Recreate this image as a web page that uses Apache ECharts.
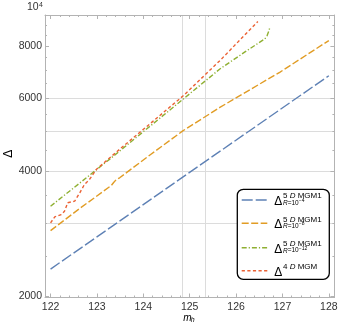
<!DOCTYPE html>
<html>
<head>
<meta charset="utf-8">
<script src="https://cdn.jsdelivr.net/npm/echarts@6.0.0/dist/echarts.min.js"></script>
<style>
  html, body { margin: 0; padding: 0; background: #fff; }
  #chart { width: 338px; height: 332px; }
</style>
</head>
<body>
<div id="chart"></div>
<script>
// m_h values and Delta values
const blueX = [122, 124.78, 128];
const blueY = [2329, 3825, 6789];

const orangeX = [122, 122.65, 123.31, 123.36, 123.42, 123.49, 124.15, 124.85, 125.65, 126.3, 126.94, 128];
const orangeY = [2881, 3270, 3699, 3760, 3825, 3860, 4385, 5002, 5696, 6285, 6918, 8248];

const greenX = [122, 123.27, 124.86, 125.65, 126.2, 126.62, 126.67, 126.71, 126.73];
const greenY = [3297, 4274, 5965, 7046, 7755, 8324, 8478, 8716, 8882];

const redX = [122, 122.09, 122.23, 122.3, 122.37, 122.52, 122.63, 122.73, 122.84, 122.99, 123.5, 124.2, 124.86, 125.65, 126.1, 126.47];
const redY = [3007, 3109, 3148, 3206, 3362, 3391, 3551, 3720, 3825, 4045, 4530, 5267, 6075, 7380, 8310, 9163];

// ticks and grid lines
const xMajor = [122, 123, 124, 125, 126, 127, 128];
const yMajor = [2000, 4000, 6000, 8000, 10000];
const yMinor = [2500, 3000, 3500, 4500, 5000, 5500, 6500, 7000, 7500, 8500, 9000, 9500];
const xGrid = [124.85, 125.33];
const yGrid = [3000, 4000, 5000, 6000];

const legendNames = [
  { sup: '5 D MGM1', sub: 'R=10', exp: '\u22124' },
  { sup: '5 D MGM1', sub: 'R=10', exp: '\u22128' },
  { sup: '5 D MGM1', sub: 'R=10', exp: '\u221212' },
  { sup: '4 D MGM', sub: '', exp: '' }
];

const X_MIN = 121.88, X_MAX = 128.12;
const Y_MIN = 1990, Y_MAX = 9500;

const FONT = '"Liberation Sans", Arial, sans-serif';
const FRAME = '#b3b3b3';
const GRID = '#dcdcdc';
const LABEL = '#333';
const colors = ['#5e81b5', '#e19c24', '#8fb032', '#eb6235'];
const dashes = [[11, 3], [7, 2.5], [5, 2, 1.2, 2], [3.2, 2.4]];

const xMinor = [];
for (let i = 0; i < 6; i++) {
  for (let k = 1; k < 5; k++) xMinor.push(+(122 + i + k * 0.2).toFixed(1));
}

function pairs(xs, ys) {
  return xs.map((x, i) => [x, ys[i]]);
}

function xAx(position, ticks, len, line, label) {
  return {
    type: 'value', min: X_MIN, max: X_MAX, position: position,
    axisLine: { show: line, onZero: false, lineStyle: { color: FRAME, width: 1 } },
    axisTick: { show: true, inside: true, length: len, customValues: ticks, lineStyle: { color: FRAME, width: 1 } },
    axisLabel: label ? { show: true, customValues: ticks, margin: 4, fontSize: 10.5, fontFamily: FONT, color: LABEL } : { show: false },
    splitLine: { show: false }
  };
}

function yAx(position, ticks, len, line, label) {
  return {
    type: 'log', logBase: 10, min: Y_MIN, max: Y_MAX, position: position,
    axisLine: { show: line, onZero: false, lineStyle: { color: FRAME, width: 1 } },
    axisTick: { show: true, inside: true, length: len, customValues: ticks, lineStyle: { color: FRAME, width: 1 } },
    axisLabel: label ? { show: true, customValues: ticks, margin: 3, fontSize: 10.5, fontFamily: FONT, color: LABEL, formatter: v => String(Math.round(v)) } : { show: false },
    splitLine: { show: false }
  };
}

const gridX = xAx('bottom', xGrid, 0, false, false);
gridX.axisTick.show = false;
gridX.splitLine = { show: true, lineStyle: { color: GRID, width: 1 } };
const gridY = yAx('left', yGrid, 0, false, false);
gridY.axisTick.show = false;
gridY.splitLine = { show: true, lineStyle: { color: GRID, width: 1 } };

const seriesData = [pairs(blueX, blueY), pairs(orangeX, orangeY), pairs(greenX, greenY), pairs(redX, redY)];

const chart = echarts.init(document.getElementById('chart'), null, { renderer: 'canvas' });

const option = {
  animation: false,
  backgroundColor: '#fff',
  grid: { left: 45, right: 3.6, top: 15, bottom: 34.5, outerBoundsMode: 'none' },
  xAxis: [
    xAx('bottom', xMajor, 4, true, true),
    xAx('bottom', xMinor, 2, false, false),
    xAx('top', xMajor, 4, true, false),
    xAx('top', xMinor, 2, false, false),
    gridX
  ],
  yAxis: [
    yAx('left', yMajor, 4, true, true),
    yAx('left', yMinor, 2, false, false),
    yAx('right', yMajor, 4, true, false),
    yAx('right', yMinor, 2, false, false),
    gridY
  ],
  series: seriesData.map((d, i) => ({
    type: 'line',
    data: d,
    xAxisIndex: 0,
    yAxisIndex: 0,
    symbol: 'none',
    silent: true,
    lineStyle: { color: colors[i], width: 1.4, type: dashes[i] },
    z: 3 + i
  }))
};
chart.setOption(option);

// decorations: axis titles, 10^4 label, legend
const y10k = chart.convertToPixel({ yAxisIndex: 0 }, yMajor[4]);
const g = [];
g.push({ type: 'text', x: 38.6, y: y10k + 1.8, z: 10,
  style: { text: '10', fontSize: 10.5, fontFamily: FONT, fill: LABEL, align: 'right', verticalAlign: 'middle' } });
g.push({ type: 'text', x: 38.9, y: y10k - 1, z: 10,
  style: { text: '4', fontSize: 7, fontFamily: FONT, fill: LABEL, align: 'left', verticalAlign: 'middle' } });

g.push({ type: 'text', x: 8.3, y: 153.7, rotation: Math.PI / 2, z: 10,
  style: { text: '\u0394', fontSize: 12, fontFamily: FONT, fill: '#000', align: 'center', verticalAlign: 'middle' } });
g.push({ type: 'text', x: 183.3, y: 318, z: 10,
  style: { text: 'm', fontSize: 10, fontStyle: 'italic', fontFamily: FONT, fill: '#000', align: 'left', verticalAlign: 'middle' } });
g.push({ type: 'text', x: 190.8, y: 320.5, z: 10,
  style: { text: 'h', fontSize: 7, fontStyle: 'italic', fontFamily: FONT, fill: '#000', align: 'left', verticalAlign: 'middle' } });

g.push({ type: 'rect', z: 20, shape: { x: 237.3, y: 189.3, width: 92, height: 90, r: 6 },
  style: { fill: '#fff', stroke: '#000', lineWidth: 1.3 } });
const rowY = [200, 223.3, 247.7, 270.7];
legendNames.forEach((n, i) => {
  const ly = rowY[i];
  g.push({ type: 'line', z: 21, shape: { x1: 241.7, y1: ly, x2: 267.3, y2: ly },
    style: { stroke: colors[i], lineWidth: 1.4, lineDash: dashes[i] } });
  g.push({ type: 'text', x: 274.3, y: ly + 1.6, z: 21,
    style: { text: '\u0394', fontSize: 12, fontFamily: FONT, fill: '#000', align: 'left', verticalAlign: 'middle' } });
  const parts = n.sup.split('D');
  g.push({ type: 'text', x: 283, y: ly - 4, z: 21,
    style: { text: '{n|' + parts[0] + '}{i|D}{n|' + parts[1] + '}', fill: '#000', align: 'left', verticalAlign: 'middle',
      rich: { n: { fontSize: 8, fontFamily: FONT, fill: '#000' }, i: { fontSize: 8, fontStyle: 'italic', fontFamily: FONT, fill: '#000' } } } });
  if (n.sub) {
    g.push({ type: 'text', x: 283, y: ly + 3, z: 21,
      style: { text: '{i|R}{n|' + n.sub.slice(1) + '}', fill: '#000', align: 'left', verticalAlign: 'middle',
        rich: { n: { fontSize: 6.5, fontFamily: FONT, fill: '#000' }, i: { fontSize: 6.5, fontStyle: 'italic', fontFamily: FONT, fill: '#000' } } } });
    g.push({ type: 'text', x: 298.8, y: ly + 0.6, z: 21,
      style: { text: n.exp, fontSize: 5, fontFamily: FONT, fill: '#000', align: 'left', verticalAlign: 'middle' } });
  }
});
chart.setOption({ graphic: g });
</script>
</body>
</html>
